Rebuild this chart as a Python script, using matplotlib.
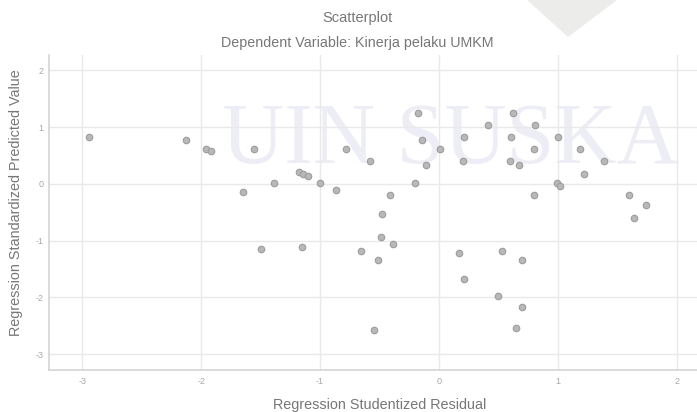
import matplotlib
matplotlib.use("Agg")
import matplotlib.pyplot as plt
from matplotlib.patches import Polygon

# Data
residual = [-2.94, -2.13, -1.96, -1.92, -1.56, -1.65, -1.50, -1.39, -1.18, -1.14,
            -1.10, -1.15, -1.00, -0.87, -0.78, -0.58, -0.66, -0.55, -0.51, -0.48,
            -0.49, -0.39, -0.41, -0.20, -0.18, -0.145, -0.11, 0.01, 0.21, 0.20,
            0.17, 0.21, 0.41, 0.50, 0.53, 0.60, 0.605, 0.62, 0.675, 0.65,
            0.70, 0.70, 0.80, 0.81, 0.80, 0.99, 1.02, 1.00, 1.19, 1.22,
            1.39, 1.60, 1.64, 1.745]
predicted = [0.82, 0.78, 0.62, 0.58, 0.62, -0.15, -1.14, 0.01, 0.21, 0.17,
             0.13, -1.11, 0.01, -0.11, 0.62, 0.41, -1.18, -2.58, -1.34, -0.53,
             -0.94, -1.06, -0.20, 0.01, 1.24, 0.78, 0.33, 0.62, 0.82, 0.41,
             -1.22, -1.68, 1.04, -1.97, -1.18, 0.41, 0.82, 1.24, 0.33, -2.54,
             -1.34, -2.17, 0.62, 1.04, -0.20, 0.01, -0.04, 0.82, 0.62, 0.17,
             0.41, -0.20, -0.61, -0.37]
xticks = [-3, -2, -1, 0, 1, 2]
yticks = [-3, -2, -1, 0, 1, 2]
title = "Scatterplot"
subtitle = "Dependent Variable: Kinerja pelaku UMKM"
xlabel = "Regression Studentized Residual"
ylabel = "Regression Standardized Predicted Value"
watermark = "UIN SUSKA"

plt.rcParams['font.family'] = ['Liberation Sans', 'DejaVu Sans']

W, H = 697, 412
fig = plt.figure(figsize=(W / 100, H / 100), dpi=100)
fig.patch.set_facecolor("white")

# watermark triangle at the top
tri = Polygon([(527 / W, 1.0), (617 / W, 1.0), (568 / W, 1 - 37 / H)],
              closed=True, transform=fig.transFigure, facecolor="#ececea",
              edgecolor="none", zorder=0)
fig.patches.append(tri)

ax = fig.add_axes([49 / W, (H - 370) / H, (W - 49) / W, (370 - 55) / H])
ax.set_facecolor("none")
ax.set_xlim(-3.28, 2.17)
ax.set_ylim(-3.28, 2.27)

ax.text(0.62, 0.657, watermark, transform=ax.transAxes, ha="center", va="baseline",
        fontsize=62, family="Liberation Serif", color="#ededf5", zorder=0)

ax.set_xticks(xticks)
ax.set_yticks(yticks)
ax.set_xticklabels([str(t) for t in xticks])
ax.set_yticklabels([str(t) for t in yticks])
ax.grid(True, color="#e9e9e9", linewidth=1.0, zorder=1)
ax.set_axisbelow(True)
ax.tick_params(length=0, labelsize=6.5, colors="#a8a8a8")
ax.tick_params(axis="x", pad=5)
ax.tick_params(axis="y", pad=4)
for s in ["top", "right"]:
    ax.spines[s].set_visible(False)
for s in ["left", "bottom"]:
    ax.spines[s].set_color("#d4d4d4")
    ax.spines[s].set_linewidth(1.2)

ax.scatter(residual, predicted, s=22, facecolor="#b8b8b8", edgecolor="#9c9c9c",
           linewidth=0.8, zorder=3)

fig.text(357 / W, 1 - 18 / H, title, ha="center", va="center", fontsize=10.5, color="#777777")
fig.text(357 / W, 1 - 43 / H, subtitle, ha="center", va="center", fontsize=10.3, color="#777777")
fig.text(380 / W, 1 - 405 / H, xlabel, ha="center", va="center", fontsize=10.4, color="#777777")
fig.text(16 / W, 1 - 203 / H, ylabel, ha="center", va="center", rotation=90,
         fontsize=10.4, color="#777777")

fig.savefig("out.png", dpi=100)
